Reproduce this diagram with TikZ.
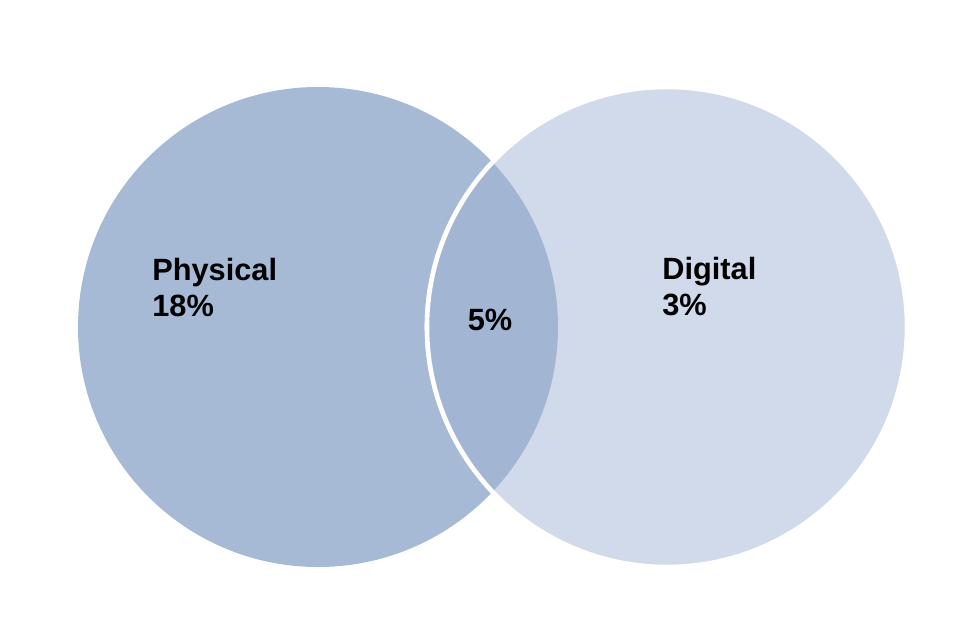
\documentclass[tikz,border=0pt]{standalone}
\usepackage{fontspec}
\setmainfont{Liberation Sans}
\definecolor{physfill}{HTML}{A6BAD6}
\definecolor{digifill}{HTML}{D0DAEA}
\definecolor{bothfill}{HTML}{A2B6D4}

\begin{document}
\begin{tikzpicture}[x=0.02cm, y=0.02cm,
    lbl/.style={inner sep=0pt, align=left, font=\fontsize{17.5}{20.5}\selectfont\bfseries}]
  \useasboundingbox (0,0) rectangle (960,640);
  % the two sets
  \fill[physfill] (318,313) circle (240);
  \filldraw[digifill, draw=white, line width=2.6pt] (667,313) circle (240);
  % overlap
  \begin{scope}
    \clip (318,313) circle (240);
    \filldraw[bothfill, draw=white, line width=2.6pt] (667,313) circle (240);
  \end{scope}
  \node[lbl, anchor=north west] (phys) at (152,382) {Physical\\18\%};
  \node[lbl, anchor=north west] (digi) at (662,383) {Digital\\3\%};
  \node[lbl] (both) at (490,320) {5\%};
\end{tikzpicture}
\end{document}
